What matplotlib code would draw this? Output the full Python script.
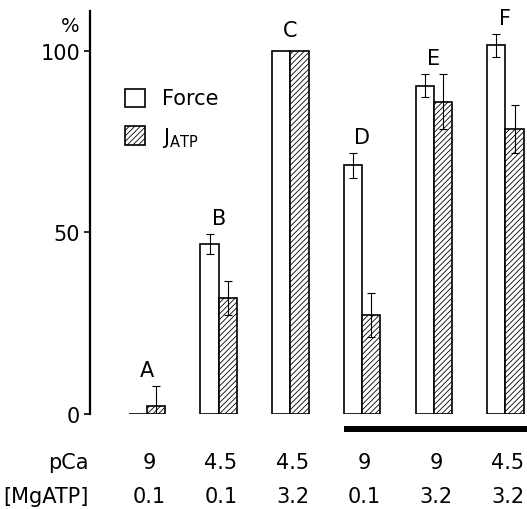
import numpy as np
import matplotlib
matplotlib.use("Agg")
import matplotlib.pyplot as plt
from matplotlib.patches import Rectangle

plt.rcParams['font.family'] = ['DejaVu Sans']
plt.rcParams['mathtext.fontset'] = 'dejavusans'
plt.rcParams['hatch.linewidth'] = 0.6

# data (% of condition C)
letters = ['A', 'B', 'C', 'D', 'E', 'F']
pca = ['9', '4.5', '4.5', '9', '9', '4.5']
mgatp = ['0.1', '0.1', '3.2', '0.1', '3.2', '3.2']
force = [0.0, 46.8, 100.0, 68.5, 90.4, 101.5]
force_err = [0.0, 2.7, 0.0, 3.4, 3.2, 3.3]
jatp = [2.3, 32.0, 100.0, 27.2, 86.0, 78.6]
jatp_err = [5.5, 4.6, 0.0, 6.1, 7.6, 6.6]

x = np.arange(len(letters))
w = 0.255
fs = 15

fig = plt.figure(figsize=(5.27, 5.10), dpi=100)
ax = fig.add_axes([90 / 527, 1 - 415 / 510, 437 / 527, 403 / 510])

ax.bar(x - w / 2, force, w, color='white', edgecolor='black', linewidth=1.2)
ax.bar(x + w / 2, jatp, w, color='white', edgecolor='black', linewidth=1.2, hatch='//////')

fe = np.array(force_err)
je = np.array(jatp_err)
mf = fe > 0
mj = je > 0
ax.errorbar((x - w / 2)[mf], np.array(force)[mf], yerr=fe[mf], fmt='none',
            ecolor='black', elinewidth=0.8, capsize=3, capthick=0.8)
ax.errorbar((x + w / 2)[mj], np.array(jatp)[mj], yerr=je[mj], fmt='none',
            ecolor='black', elinewidth=0.8, capsize=3, capthick=0.8)

# condition letters above the bars
for i, lab in enumerate(letters):
    top = max(force[i] + force_err[i], jatp[i] + jatp_err[i])
    off = 1.6 if (force_err[i] + jatp_err[i]) > 0 else 3.0
    ax.text(x[i], top + off, lab, ha='center', va='bottom', fontsize=fs)

ax.set_xlim(-0.795, 5.30)
ax.set_ylim(0, 111)
ax.set_yticks([0, 50, 100])
ax.tick_params(axis='y', labelsize=fs, length=4, width=1.2, direction='out', pad=3)
ax.tick_params(axis='x', bottom=False, labelbottom=False)
for s in ['top', 'right', 'bottom']:
    ax.spines[s].set_visible(False)
ax.spines['left'].set_linewidth(1.6)
ax.text(-1.07, 106.9, '%', ha='center', va='center', fontsize=14)

# legend drawn by hand
ax.add_patch(Rectangle((-0.307, 84.6), 0.279, 5.0, facecolor='white',
                       edgecolor='black', linewidth=1.2))
ax.add_patch(Rectangle((-0.307, 74.2), 0.279, 5.0, facecolor='white',
                       edgecolor='black', linewidth=1.2, hatch='//////'))
ax.text(0.21, 87.1, 'Force', ha='left', va='center', fontsize=fs)
ax.text(0.21, 76.2, r'J$_{\rm ATP}$', ha='left', va='center', fontsize=fs)

# thick bar under D-F
ax.plot([x[3] - w, 5.35], [-4.2, -4.2], color='black', linewidth=4.3,
        solid_capstyle='butt', clip_on=False)

# condition rows below the axis
ax.text(-0.81, -13.2, 'pCa', ha='right', va='center', fontsize=fs)
ax.text(-0.81, -22.6, '[MgATP]', ha='right', va='center', fontsize=fs)
for i in range(len(letters)):
    ax.text(x[i] + 0.03, -13.2, pca[i], ha='center', va='center', fontsize=fs)
    ax.text(x[i] + 0.03, -22.6, mgatp[i], ha='center', va='center', fontsize=fs)

fig.savefig('out.png', dpi=100)
